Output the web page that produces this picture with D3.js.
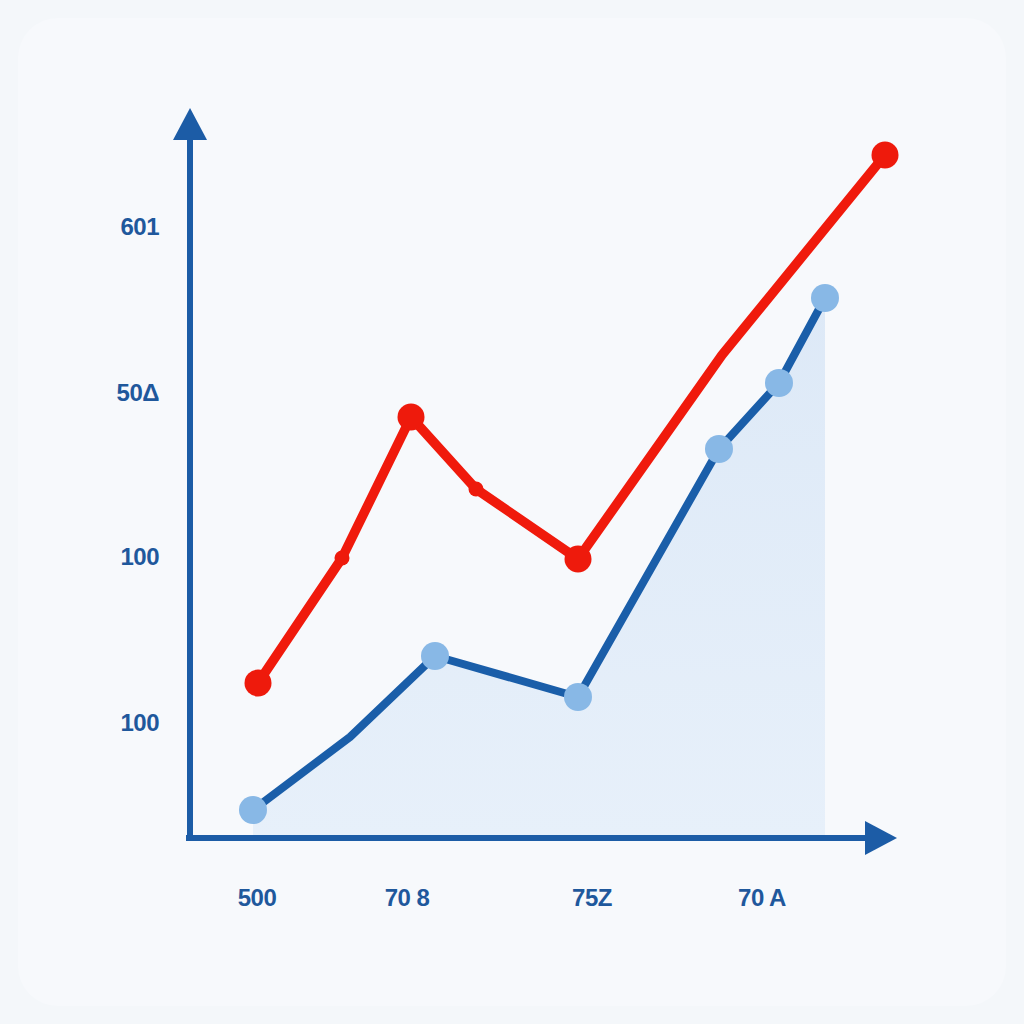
<!DOCTYPE html>
<html>
<head>
<meta charset="utf-8">
<script src="https://cdn.jsdelivr.net/npm/d3@7"></script>
<style>
  html, body { margin: 0; padding: 0; background: #f4f7fa; }
  svg { display: block; }
</style>
</head>
<body>
<div id="chart"></div>
<script>
// values (x and y in the chart's own units)
const redX = [68, 152, 221, 286, 388, 532, 695];
const redY = [155, 280, 421, 349, 279, 483, 683];
const redMarker = ["big", "small", "big", "small", "big", "none", "big"];

const blueX = [63, 160, 245, 388, 529, 589, 635];
const blueY = [28, 101, 182, 141, 389, 455, 540];
const blueMarker = ["big", "none", "big", "big", "big", "big", "big"];

const xTickValues = [67, 217, 402, 572];
const xTickLabels = ["500", "70 8", "75Z", "70 A"];
const yTickValues = [612, 446, 282, 116];
const yTickLabels = ["601", "50Δ", "100", "100"];

const width = 1024, height = 1024;
const originX = 190, originY = 838;

const svg = d3
  .select("#chart")
  .append("svg")
  .attr("width", width)
  .attr("height", height);

// soft card background
svg
  .append("rect")
  .attr("x", 18)
  .attr("y", 18)
  .attr("width", width - 36)
  .attr("height", height - 36)
  .attr("rx", 40)
  .attr("fill", "#f7f9fc");

const x = d3.scaleLinear().domain([0, 700]).range([originX, originX + 700]);
const y = d3.scaleLinear().domain([0, 700]).range([originY, originY - 700]);

const red = redX.map((v, i) => ({ x: v, y: redY[i], m: redMarker[i] }));
const blue = blueX.map((v, i) => ({ x: v, y: blueY[i], m: blueMarker[i] }));

// area under the blue series
const grad = svg
  .append("defs")
  .append("linearGradient")
  .attr("id", "areaFill")
  .attr("x1", 0)
  .attr("y1", 0)
  .attr("x2", 0)
  .attr("y2", 1);
grad.append("stop").attr("offset", "0%").attr("stop-color", "#dde9f7");
grad.append("stop").attr("offset", "100%").attr("stop-color", "#e7f0fa");

svg
  .append("path")
  .datum(blue)
  .attr("fill", "url(#areaFill)")
  .attr(
    "d",
    d3
      .area()
      .x((d) => x(d.x))
      .y0(y(0))
      .y1((d) => y(d.y))
  );

// axes with arrow heads
const axisColor = "#1c5ca6";

svg
  .append("line")
  .attr("x1", originX)
  .attr("y1", originY + 3)
  .attr("x2", originX)
  .attr("y2", 135)
  .attr("stroke", axisColor)
  .attr("stroke-width", 6);

svg
  .append("path")
  .attr("d", `M${originX - 17},140 L${originX},108 L${originX + 17},140 Z`)
  .attr("fill", axisColor);

svg
  .append("line")
  .attr("x1", originX - 4)
  .attr("y1", originY)
  .attr("x2", 870)
  .attr("y2", originY)
  .attr("stroke", axisColor)
  .attr("stroke-width", 6);

svg
  .append("path")
  .attr("d", `M865,${originY - 17} L897,${originY} L865,${originY + 17} Z`)
  .attr("fill", axisColor);

// tick labels
const labelColor = "#1f589c";

svg
  .append("g")
  .selectAll("text")
  .data(xTickValues)
  .enter()
  .append("text")
  .attr("x", (d) => x(d))
  .attr("y", 906)
  .attr("text-anchor", "middle")
  .attr("font-family", "Liberation Sans, Arial, sans-serif")
  .attr("font-weight", "bold")
  .attr("font-size", 24)
  .attr("letter-spacing", -0.5)
  .attr("fill", labelColor)
  .text((d, i) => xTickLabels[i]);

svg
  .append("g")
  .selectAll("text")
  .data(yTickValues)
  .enter()
  .append("text")
  .attr("x", 159)
  .attr("y", (d) => y(d) + 9)
  .attr("text-anchor", "end")
  .attr("font-family", "Liberation Sans, Arial, sans-serif")
  .attr("font-weight", "bold")
  .attr("font-size", 24)
  .attr("letter-spacing", -0.5)
  .attr("fill", labelColor)
  .text((d, i) => yTickLabels[i]);

// lines
const line = d3
  .line()
  .x((d) => x(d.x))
  .y((d) => y(d.y));

svg
  .append("path")
  .datum(blue)
  .attr("fill", "none")
  .attr("stroke", "#1a5ea9")
  .attr("stroke-width", 8)
  .attr("stroke-linejoin", "round")
  .attr("d", line);

svg
  .append("path")
  .datum(red)
  .attr("fill", "none")
  .attr("stroke", "#f01a0c")
  .attr("stroke-width", 9.5)
  .attr("stroke-linejoin", "round")
  .attr("stroke-linecap", "round")
  .attr("d", line);

// markers
svg
  .append("g")
  .selectAll("circle")
  .data(blue.filter((d) => d.m !== "none"))
  .enter()
  .append("circle")
  .attr("cx", (d) => x(d.x))
  .attr("cy", (d) => y(d.y))
  .attr("r", 14)
  .attr("fill", "#88b8e6");

svg
  .append("g")
  .selectAll("circle")
  .data(red.filter((d) => d.m !== "none"))
  .enter()
  .append("circle")
  .attr("cx", (d) => x(d.x))
  .attr("cy", (d) => y(d.y))
  .attr("r", (d) => (d.m === "big" ? 13.5 : 7.5))
  .attr("fill", "#ee1a0c");
</script>
</body>
</html>
